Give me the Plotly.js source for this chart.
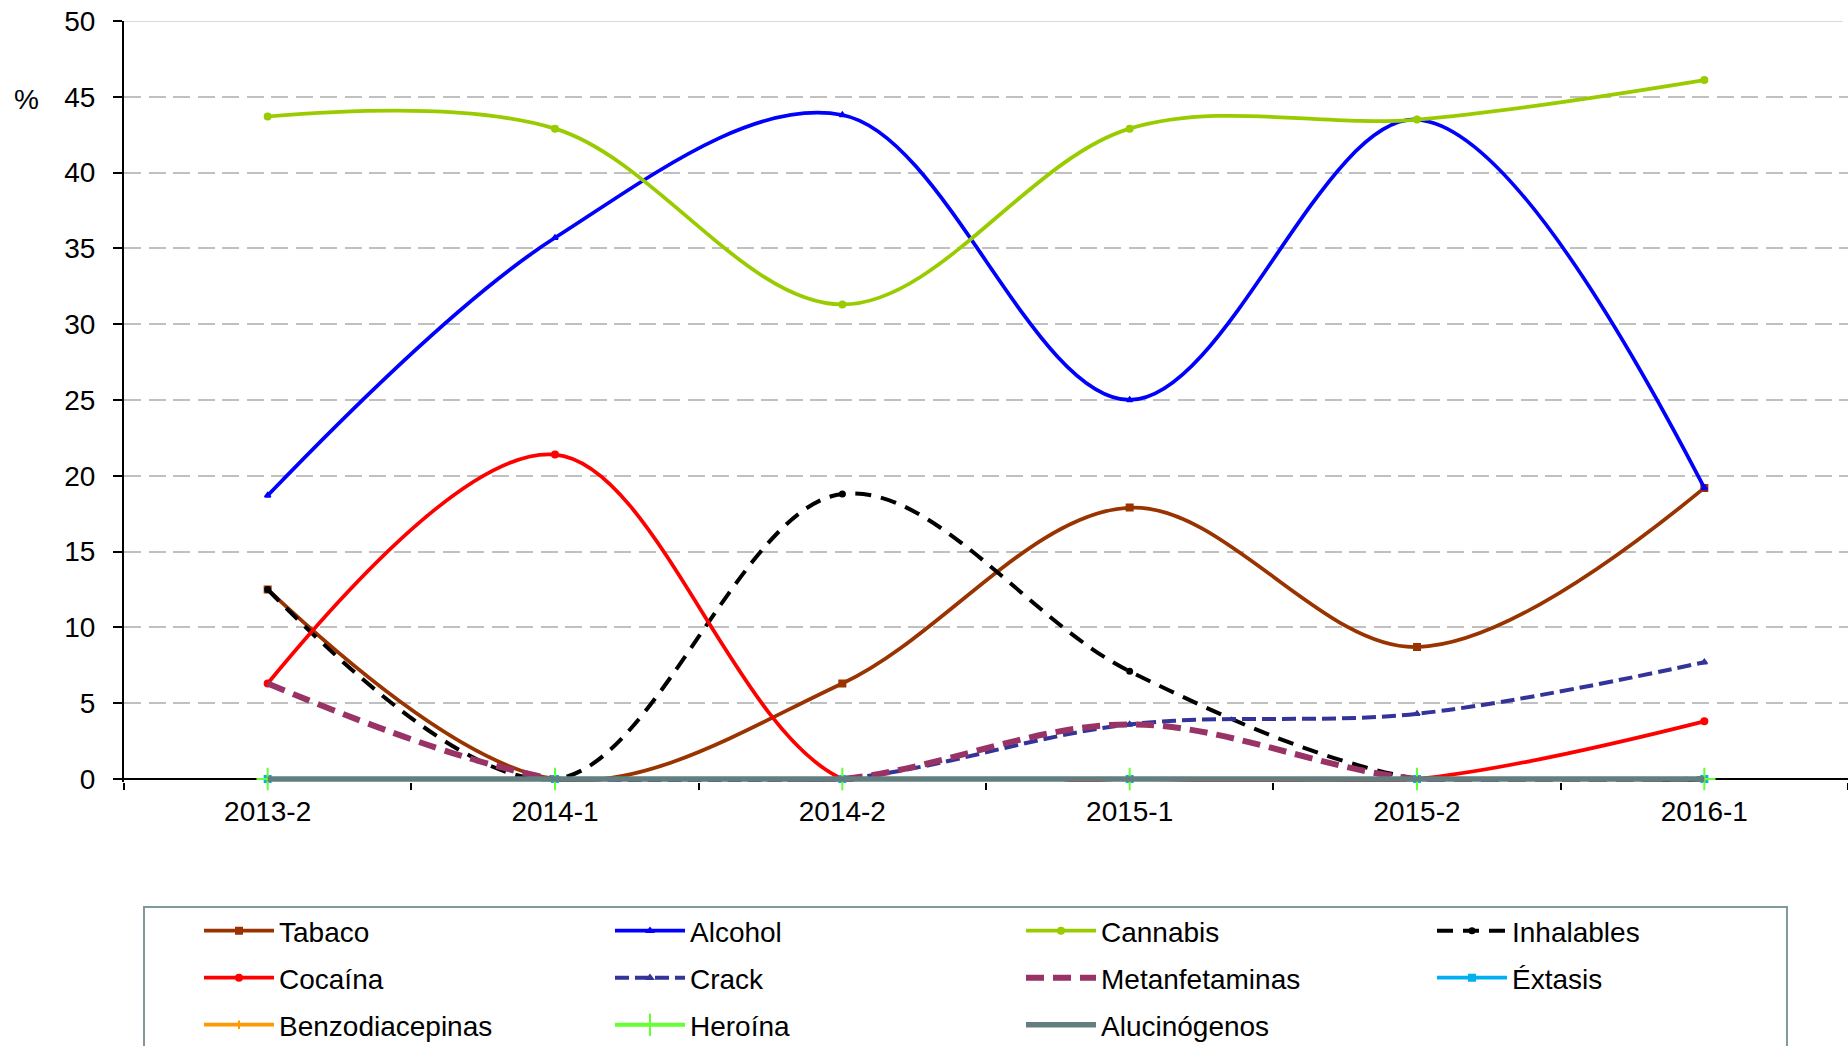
<!DOCTYPE html>
<html>
<head>
<meta charset="utf-8">
<script src="https://cdn.plot.ly/plotly-3.0.1.min.js"></script>
<style>
html,body{margin:0;padding:0;background:#fff;}
#chart{width:1848px;height:1046px;}
</style>
</head>
<body>
<div id="chart"></div>
<script>
const categories = ['2013-2', '2014-1', '2014-2', '2015-1', '2015-2', '2016-1'];
const yTickVals = [0, 5, 10, 15, 20, 25, 30, 35, 40, 45, 50];

const tabaco         = [12.5, 0.0, 6.3, 17.9, 8.7, 19.2];
const alcohol        = [18.7, 35.7, 43.8, 25.0, 43.5, 19.2];
const cannabis       = [43.7, 42.9, 31.3, 42.9, 43.5, 46.1];
const inhalables     = [12.5, 0.0, 18.8, 7.1, 0.0, 0.0];
const cocaina        = [6.3, 21.4, 0.0, 0.0, 0.0, 3.8];
const crack          = [0.0, 0.0, 0.0, 3.6, 4.3, 7.7];
const metanfetaminas = [6.3, 0.0, 0.0, 3.6, 0.0, 0.0];
const extasis        = [0, 0, 0, 0, 0, 0];
const benzodiacepinas= [0, 0, 0, 0, 0, 0];
const heroina        = [0, 0, 0, 0, 0, 0];
const alucinogenos   = [0, 0, 0, 0, 0, 0];

function tr(name, y, color, width, dash, symbol, msize, legend) {
  return {
    type: 'scatter', mode: symbol ? 'lines+markers' : 'lines',
    name: name, x: categories, y: y,
    line: {color: color, width: width, dash: dash, shape: 'spline', smoothing: 1},
    marker: {symbol: symbol || 'circle', size: msize || 1, color: color, line: {color: color, width: 2}},
    legend: legend, cliponaxis: false
  };
}

const data = [
  tr('Tabaco', tabaco, '#993300', 3.75, 'solid', 'square', 6, 'legend'),
  tr('Alcohol', alcohol, '#0000ff', 3.75, 'solid', 'triangle-up', 5, 'legend'),
  tr('Cannabis', cannabis, '#99cc00', 3.75, 'solid', 'circle', 6, 'legend'),
  tr('Inhalables', inhalables, '#000000', 4, '16px,10px', 'circle', 5, 'legend'),
  tr('Cocaína', cocaina, '#ff0000', 3.75, 'solid', 'circle', 6, 'legend2'),
  tr('Crack', crack, '#333399', 4, '14px,6px', 'triangle-up', 5, 'legend2'),
  tr('Metanfetaminas', metanfetaminas, '#993366', 6, '18px,9px', null, 0, 'legend2'),
  tr('Éxtasis', extasis, '#00b0f0', 3.75, 'solid', 'square', 6, 'legend2'),
  tr('Benzodiacepinas', benzodiacepinas, '#ff9900', 3.75, 'solid', 'cross-thin', 6, 'legend3'),
  tr('Heroína', heroina, '#66ff33', 4, 'solid', 'cross-thin', 16, 'legend3'),
  tr('Alucinógenos', alucinogenos, '#627e7e', 5.5, 'solid', null, 0, 'legend3')
];

const FONT = 'Liberation Sans, Arial, sans-serif';
function legendAt(y) {
  return {
    orientation: 'h', xanchor: 'left', yanchor: 'middle', x: 0.0435, y: y,
    font: {family: FONT, size: 28, color: '#000'},
    bgcolor: 'rgba(0,0,0,0)',
    entrywidth: 326, itemwidth: 70
  };
}

const layout = {
  width: 1848, height: 1046,
  margin: {l: 124, r: 0, t: 21, b: 264, autoexpand: false},
  paper_bgcolor: '#fff', plot_bgcolor: '#fff',
  font: {family: FONT, size: 28, color: '#000'},
  xaxis: {
    type: 'category', range: [-0.5, 5.5], tickson: 'boundaries',
    ticks: 'outside', ticklen: 7, tickwidth: 2, tickcolor: '#000',
    showline: false, showgrid: false, zeroline: false,
    ticklabelstandoff: 10, layer: 'below traces',
    tickfont: {family: FONT, size: 28, color: '#000'}
  },
  yaxis: {
    range: [-0.2, 50], tickvals: yTickVals, ticktext: yTickVals.map(String),
    ticks: 'outside', ticklen: 9, tickwidth: 2, tickcolor: '#000',
    showline: true, linecolor: '#000', linewidth: 2,
    showgrid: true, gridcolor: '#c0c0c0', gridwidth: 2, griddash: '17px,7.5px',
    zeroline: true, zerolinecolor: '#000', zerolinewidth: 2,
    ticklabelstandoff: 12, layer: 'below traces',
    tickfont: {family: FONT, size: 28, color: '#000'}
  },
  legend: legendAt(-0.1958),
  legend2: legendAt(-0.2576),
  legend3: legendAt(-0.3193),
  annotations: [{
    text: '%', xref: 'paper', yref: 'y', x: -0.0568, y: 44.8,
    showarrow: false, xanchor: 'center', yanchor: 'middle',
    font: {family: FONT, size: 28, color: '#000'}
  }],
  shapes: [{
    type: 'line', xref: 'paper', yref: 'y', x0: 0, x1: 0.997, y0: 50, y1: 50,
    line: {color: '#dadada', width: 2}, layer: 'below'
  }, {
    type: 'rect', xref: 'paper', yref: 'paper',
    x0: 0.0116, x1: 0.9646, y0: -0.1643, y1: -0.6,
    line: {color: '#7f9a9a', width: 2}, fillcolor: 'rgba(0,0,0,0)'
  }]
};

Plotly.newPlot('chart', data, layout, {displayModeBar: false});
</script>
</body>
</html>
